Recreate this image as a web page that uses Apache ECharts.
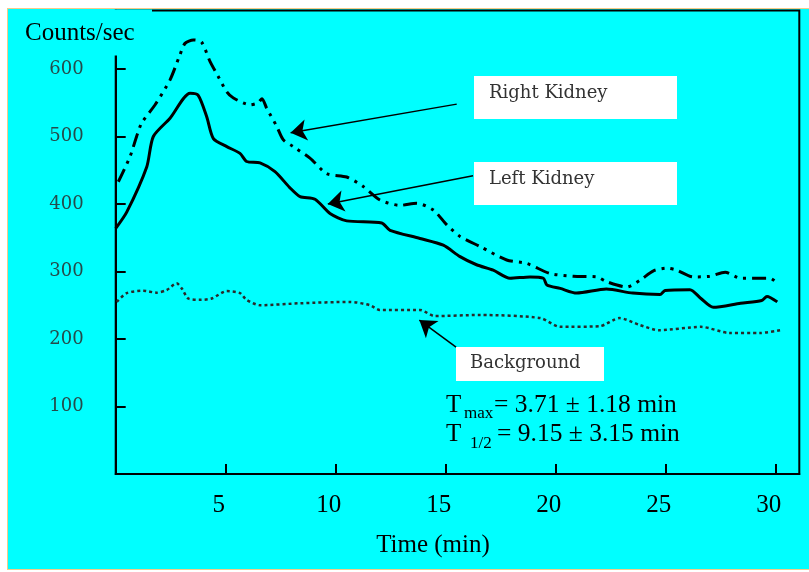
<!DOCTYPE html>
<html>
<head>
<meta charset="utf-8">
<script src="https://cdn.jsdelivr.net/npm/echarts@6/dist/echarts.min.js"></script>
<style>
html,body{margin:0;padding:0;background:#fff;}
#bg{position:absolute;left:7px;top:8px;width:802px;height:562px;background:#00ffff;border-left:1.5px solid #f2cc88;border-top:1.5px solid #f2cc88;border-bottom:1.5px solid #f2cc88;box-sizing:border-box;}
#c{position:absolute;left:0;top:0;width:809px;height:572px;}
</style>
</head>
<body>
<div id="bg"></div>
<div id="c"></div>
<script>
// Left kidney (solid)
const leftTime   = [0, 0.5, 1.41, 1.71, 2.47, 3.38, 3.75, 4.14, 4.44, 5.05, 5.65, 5.95, 6.56, 7.24, 7.92, 8.38, 9.06, 9.74, 10.5, 12.09, 12.47, 13.83, 14.89, 15.65, 16.4, 17.16, 17.92, 18.83, 19.44, 19.6, 20.2, 20.95, 22.3, 23.5, 24.74, 24.97, 26.1, 26.6, 27.16, 28.4, 29.36, 29.6, 30.07];
const leftCounts = [364, 388, 455, 500, 527, 564, 561, 529, 497, 485, 475, 463, 461, 448, 424, 411, 407, 386, 375, 372, 361, 349, 339, 322, 310, 302, 290, 292, 290, 280, 275, 268, 274, 268, 266, 272, 273, 260, 247, 253, 257, 263, 255];
// Right kidney (dash-dot-dot)
const rightTime   = [0.12, 0.65, 0.95, 1.18, 1.79, 2.47, 2.92, 3.15, 3.53, 3.9, 4.29, 4.66, 5.05, 5.35, 6.1, 6.47, 6.65, 6.86, 7.32, 7.62, 8.07, 8.83, 9.59, 10.5, 11.25, 12.01, 12.92, 13.68, 14.44, 15.05, 15.65, 16.56, 17.77, 18.68, 19.74, 20.8, 21.86, 22.3, 23.23, 23.83, 24.44, 25.05, 25.5, 26.25, 27.0, 27.7, 28.4, 29.1, 29.74, 30.09];
const rightCounts = [433, 470, 500, 520, 547, 584, 621, 638, 643, 640, 611, 589, 566, 557, 547, 550, 556, 542, 515, 495, 485, 468, 445, 440, 426, 406, 398, 401, 391, 369, 352, 337, 317, 312, 297, 293, 292, 285, 277, 287, 301, 305, 302, 292, 293, 299, 290, 290, 290, 282];
// Background (dotted)
const bgTime   = [0.05, 0.5, 1.25, 1.86, 2.32, 2.77, 3.0, 3.3, 3.83, 4.36, 5.05, 5.65, 5.95, 6.56, 8.4, 10.65, 11.56, 12.0, 13.83, 14.5, 16.56, 19.3, 20.2, 22.0, 22.9, 23.8, 24.7, 26.6, 27.9, 29.3, 30.2];
const bgCounts = [255, 268, 271.5, 268.6, 272.6, 282.5, 275, 260, 258, 260, 271, 268, 258, 250, 253, 255, 250, 243, 243, 234, 235.6, 231, 218, 219, 231, 221, 213, 218, 209, 209, 213];
// Axis ticks
const xTicks = [5, 10, 15, 20, 25, 30];
const yTicks = [100, 200, 300, 400, 500, 600];
// Annotation arrows (data coordinates: [start, tip])
const arrowRight = [[15.5, 548], [7.95, 505.6]];
const arrowLeft  = [[16.24, 442], [9.64, 400]];
const arrowBg    = [[15.47, 188], [13.8, 228]];

const zip = (a, b) => a.map((v, i) => [v, b[i]]);
const serif = "'Liberation Serif', 'Times New Roman', serif";
const serif2 = "'DejaVu Serif', serif";

const chart = echarts.init(document.getElementById('c'), null, {renderer: 'canvas'});
chart.setOption({
  backgroundColor: 'transparent',
  animation: false,
  grid: {left: 115.7, right: 9.7, top: 10.5, bottom: 98, show: true, borderColor: '#000', borderWidth: 2, backgroundColor: 'transparent'},
  xAxis: {
    type: 'value', min: 0, max: 31.07, interval: 5,
    axisLine: {show: true, lineStyle: {color: '#000', width: 2}},
    axisTick: {show: true, inside: true, length: 10, lineStyle: {color: '#000', width: 2}},
    axisLabel: {color: '#000', fontFamily: serif, fontSize: 25, margin: 19, showMinLabel: false, showMaxLabel: false,
      padding: [0, 14, 0, 0],
      formatter: v => xTicks.includes(v) ? String(v) : ''},
    splitLine: {show: false},
    name: 'Time (min)', nameLocation: 'middle', nameGap: 59,
    nameTextStyle: {color: '#000', fontFamily: serif, fontSize: 25, padding: [0, 49, 0, 0]}
  },
  yAxis: {
    type: 'value', min: 0, max: 686.7, interval: 100,
    axisLine: {show: true, lineStyle: {color: '#000', width: 2}},
    axisTick: {show: true, inside: true, length: 10, lineStyle: {color: '#000', width: 2}},
    axisLabel: {color: '#254b4b', fontFamily: serif2, fontSize: 18, margin: 32, showMinLabel: false, showMaxLabel: false,
      formatter: v => yTicks.includes(v) ? String(v) : ''},
    splitLine: {show: false}
  },
  series: [
    {type: 'line', name: 'Left Kidney', data: zip(leftTime, leftCounts), showSymbol: false, smooth: 0.25,
      lineStyle: {color: '#000', width: 3}, silent: true,
      markLine: {silent: true, symbol: ['none', 'arrow'], symbolSize: 16, animation: false,
        lineStyle: {color: '#000', width: 1.5, type: 'solid'}, label: {show: false},
        emphasis: {disabled: true},
        data: [arrowRight, arrowLeft, arrowBg].map(a => [{coord: a[0]}, {coord: a[1]}])}},
    {type: 'line', name: 'Right Kidney', data: zip(rightTime, rightCounts), showSymbol: false, smooth: 0.25,
      lineStyle: {color: '#000', width: 3, type: [14, 6, 3, 6, 3, 6]}, silent: true},
    {type: 'line', name: 'Background', data: zip(bgTime, bgCounts), showSymbol: false, smooth: 0.25,
      lineStyle: {color: '#2a2a2a', width: 2.5, type: [3, 3]}, silent: true}
  ],
  graphic: [
    {type: 'rect', z: 100, shape: {x: 8.5, y: 9.5, width: 143.5, height: 46}, style: {fill: '#00ffff'}},
    {type: 'text', z: 101, x: 25, y: 33, style: {text: 'Counts/sec', font: "25px " + serif, fill: '#000', verticalAlign: 'middle'}},
    {type: 'rect', z: 100, shape: {x: 474, y: 76, width: 203, height: 43}, style: {fill: '#fff'}},
    {type: 'text', z: 101, x: 489, y: 93, style: {text: 'Right Kidney', font: "18px " + serif2, fill: '#333', verticalAlign: 'middle'}},
    {type: 'rect', z: 100, shape: {x: 474, y: 162, width: 203, height: 43}, style: {fill: '#fff'}},
    {type: 'text', z: 101, x: 489, y: 179, style: {text: 'Left Kidney', font: "18px " + serif2, fill: '#333', verticalAlign: 'middle'}},
    {type: 'rect', z: 100, shape: {x: 456, y: 347, width: 148, height: 34}, style: {fill: '#fff'}},
    {type: 'text', z: 101, x: 470, y: 363, style: {text: 'Background', font: "18px " + serif2, fill: '#333', verticalAlign: 'middle'}},
    {type: 'text', z: 101, x: 446, y: 405, style: {text: 'T', font: "25px " + serif, fill: '#000', verticalAlign: 'middle'}},
    {type: 'text', z: 101, x: 464, y: 414, style: {text: 'max', font: "17px " + serif, fill: '#000', verticalAlign: 'middle'}},
    {type: 'text', z: 101, x: 494, y: 405, style: {text: '= 3.71 \u00b1 1.18 min', font: "25.5px " + serif, fill: '#000', verticalAlign: 'middle'}},
    {type: 'text', z: 101, x: 446, y: 434, style: {text: 'T', font: "25px " + serif, fill: '#000', verticalAlign: 'middle'}},
    {type: 'text', z: 101, x: 470, y: 444, style: {text: '1/2', font: "17px " + serif, fill: '#000', verticalAlign: 'middle'}},
    {type: 'text', z: 101, x: 497, y: 434, style: {text: '= 9.15 \u00b1 3.15 min', font: "25.5px " + serif, fill: '#000', verticalAlign: 'middle'}}
  ]
});
</script>
</body>
</html>
